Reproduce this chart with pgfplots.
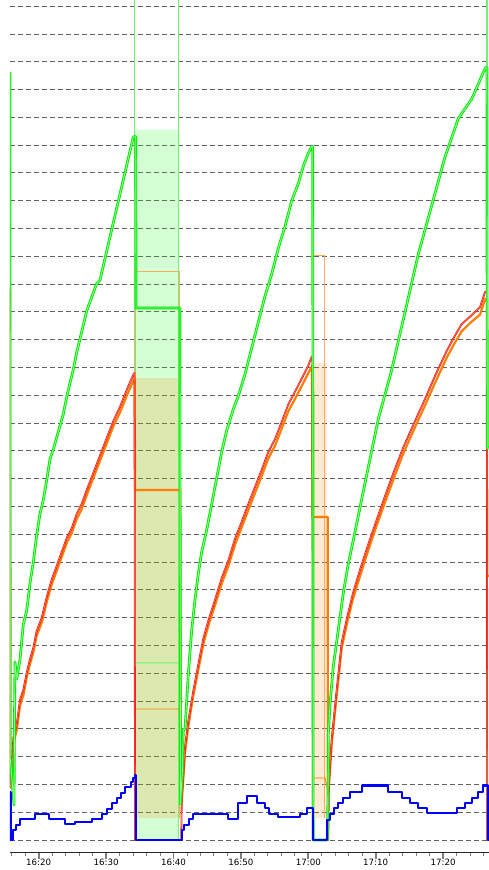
\documentclass[border=0pt]{standalone}
\usepackage{fontspec}
\setmainfont{DejaVu Sans}
\usepackage{pgfplots}
\pgfplotsset{compat=1.18}
\definecolor{grn}{RGB}{0,230,0}
\definecolor{grnin}{RGB}{140,255,140}
\definecolor{grnlt}{RGB}{110,245,110}
\definecolor{rd}{RGB}{240,20,20}
\definecolor{rdin}{RGB}{255,120,90}
\definecolor{org}{RGB}{255,125,0}
\definecolor{orglt}{RGB}{255,170,100}
\definecolor{blu}{RGB}{0,0,255}
\definecolor{fillg}{RGB}{0,255,0}
\definecolor{fillor}{RGB}{255,128,0}
\begin{document}
\begin{tikzpicture}
\path[use as bounding box] (0,0) rectangle (489bp,870bp);
\begin{axis}[
  at={(10bp,18bp)}, anchor=south west,
  scale only axis, width=479bp, height=852bp,
  xmin=15.74, xmax=86.81, ymin=-0.432, ymax=30.22,
  axis x line*=bottom, axis y line*=left,
  y axis line style={draw=none},
  x axis line style={line width=1bp, black!85},
  xtick={20,30,40,50,60,70,80},
  xticklabels={16:20,16:30,16:40,16:50,17:00,17:10,17:20},
  minor xtick={16,18,...,86},
  ytick={0,1,...,30}, yticklabels={},
  ytick style={draw=none},
  tick align=outside,
  major tick length=7bp, minor tick length=4bp,
  major tick style={line width=1.8bp},
  minor tick style={line width=0.9bp},
  ymajorgrids,
  major grid style={dash pattern=on 5bp off 3bp, black!62, line width=0.8bp},
  xticklabel style={font=\fontsize{8.7}{10}\selectfont, inner sep=0pt, anchor=north},
  clip=true,
]
% fills
\addplot[fill=fillg, fill opacity=0.17, draw=none] coordinates {(34.29,0) (34.29,25.56) (40.82,25.56) (40.82,0) (34.29,0)};
\addplot[fill=fillor, fill opacity=0.17, draw=none] coordinates {(34.29,0.79) (34.29,16.62) (40.82,16.62) (40.82,0.79) (34.29,0.79)};
\addplot[fill=fillor, fill opacity=0.17, draw=none] coordinates {(60.72,0.79) (60.72,17.16) (62.70,17.16) (62.70,0.79) (60.72,0.79)};
% light orange outlines
\addplot[orglt, line width=1bp] coordinates {(34.29,0.79) (34.29,20.44) (40.82,20.44) (40.82,0.79)};
\addplot[orglt, line width=1bp] coordinates {(60.72,0.79) (60.72,21.03) (62.40,21.03) (62.40,0.79)};
% light green spikes
\addplot[grnlt, line width=1.2bp] coordinates {(34.24,0) (34.24,32) (40.78,32) (40.78,0)};
\addplot[grnlt, line width=1.2bp] coordinates {(86.52,0) (86.52,32)};
% thin twin lines in intervals
\addplot[grnlt, line width=1bp] coordinates {(34.44,6.37) (40.82,6.37) (41.45,2.4)};
\addplot[org, line width=0.8bp] coordinates {(34.44,4.71) (40.82,4.71) (41.22,1.5)};
\addplot[org, line width=0.8bp] coordinates {(60.74,2.23) (62.48,2.23) (62.90,1.8)};
% orange
\addplot[org, line width=2.2bp, line join=round] coordinates {
(15.74,19.78) (15.78,1.95) (16.04,1.85) (16.23,3.45) (16.74,3.95) (17.23,4.85) (17.72,5.20) (18.22,5.85) (18.71,6.33) (19.20,6.75) (19.70,7.35) (20.45,7.82) (21.19,8.56) (21.93,9.20) (22.67,9.68) (23.41,10.18) (24.15,10.68) (24.90,11.04) (25.64,11.55) (26.38,11.90) (27.12,12.40) (28.10,13.02) (29.09,13.64) (30.09,14.27) (31.07,14.88) (32.06,15.38) (33.06,15.98) (34.04,16.52) (34.25,16.58) (34.29,12.59) (41.00,12.59) (41.05,1.3) (41.22,1.35) (41.71,3.15) (42.20,4.10) (42.94,5.20) (43.68,6.12) (44.42,7.05) (45.16,7.70) (46.16,8.45) (47.15,9.22) (48.13,9.85) (49.12,10.62) (50.12,11.25) (51.10,11.87) (52.09,12.48) (53.09,13.10) (54.07,13.73) (55.06,14.18) (56.05,14.80) (57.03,15.42) (58.03,15.87) (59.02,16.33) (60.00,16.80) (60.55,17.05) (60.62,11.62) (62.88,11.62) (62.92,1.9) (63.07,1.95) (63.47,3.45) (64.21,5.20) (64.96,6.92) (65.80,7.85) (66.63,8.68) (67.75,9.55) (68.86,10.40) (70.12,11.30) (71.38,12.15) (72.70,13.02) (74.05,13.88) (75.70,14.78) (77.31,15.63) (78.90,16.50) (80.53,17.35) (81.65,17.85) (82.76,18.30) (84.10,18.62) (85.48,18.90) (86.22,19.45) (86.50,19.50) (86.55,9.5) (86.85,9.5)};
% red
\addplot[rd, line width=0.6bp, double=rdin, double distance=0.6bp, line join=round] coordinates {
(15.74,19.9) (15.78,1.9) (15.99,2.05) (16.23,3.67) (16.74,4.17) (17.23,5.04) (17.72,5.40) (18.22,6.02) (18.71,6.51) (19.20,6.91) (19.70,7.52) (20.45,8.00) (21.19,8.74) (21.93,9.37) (22.67,9.86) (23.41,10.36) (24.15,10.86) (24.90,11.22) (25.64,11.73) (26.38,12.09) (27.12,12.59) (28.10,13.20) (29.09,13.83) (30.09,14.46) (31.07,15.07) (32.06,15.58) (33.06,16.19) (34.04,16.74) (34.22,16.80) (34.29,0) (41.15,0) (41.22,1.47) (41.71,3.35) (42.20,4.28) (42.94,5.37) (43.68,6.31) (44.42,7.24) (45.16,7.88) (46.16,8.64) (47.15,9.42) (48.13,10.05) (49.12,10.83) (50.12,11.45) (51.10,12.09) (52.09,12.70) (53.09,13.32) (54.07,13.96) (55.06,14.42) (56.05,15.04) (57.03,15.67) (58.03,16.13) (59.02,16.60) (60.00,17.07) (60.50,17.38) (60.62,17.40) (60.68,0) (62.95,0) (63.07,2.09) (63.47,3.63) (64.21,5.40) (64.96,7.12) (65.80,8.05) (66.63,8.88) (67.75,9.78) (68.86,10.61) (70.12,11.50) (71.38,12.37) (72.70,13.25) (74.05,14.10) (75.70,15.00) (77.31,15.86) (78.90,16.75) (80.53,17.59) (81.65,18.10) (82.76,18.56) (84.10,18.85) (85.48,19.17) (86.22,19.71) (86.50,19.75) (86.55,0) (86.85,0)};
% green
\addplot[grn, line width=0.9bp, double=grnin, double distance=0.9bp, line join=round] coordinates {
(15.74,27.63) (15.76,3.0) (16.10,2.0) (16.34,1.26) (16.40,4.17) (16.48,6.40) (16.74,5.79) (17.23,6.51) (17.72,7.77) (18.22,8.25) (18.71,9.24) (19.20,10.00) (19.70,10.97) (20.19,11.73) (20.68,12.23) (21.19,12.95) (21.68,13.71) (22.17,14.06) (22.91,14.69) (23.65,15.32) (24.15,15.94) (24.64,16.44) (25.13,16.92) (25.64,17.55) (26.38,18.28) (27.12,19.03) (27.86,19.53) (28.61,20.02) (29.09,20.14) (29.84,20.92) (30.58,21.70) (31.32,22.47) (32.06,23.24) (32.56,23.76) (33.06,24.28) (33.55,24.79) (34.04,25.30) (34.40,25.30) (34.44,19.14) (40.96,19.14) (41.02,1.3) (41.30,2.4) (41.45,3.95) (41.71,4.0) (42.20,5.99) (42.70,7.55) (43.19,8.64) (43.68,9.58) (44.18,10.36) (44.92,11.15) (45.67,12.09) (46.41,13.02) (47.15,13.96) (47.89,14.73) (48.87,15.50) (49.61,15.97) (50.61,16.76) (51.60,17.70) (52.58,18.63) (53.58,19.57) (54.57,20.36) (55.55,21.29) (56.54,22.07) (57.54,23.00) (58.52,23.62) (59.26,24.24) (60.00,24.71) (60.50,24.95) (60.66,24.95) (60.72,0) (62.82,0) (62.88,0.8) (62.95,2.4) (62.97,3.82) (63.22,4.87) (63.71,6.26) (64.21,7.13) (64.70,8.01) (65.19,8.88) (65.93,9.93) (66.68,10.79) (67.42,11.67) (68.16,12.54) (68.90,13.41) (69.65,14.28) (70.39,15.15) (71.38,16.03) (72.37,16.90) (73.35,17.95) (74.35,18.99) (75.34,20.04) (76.32,21.08) (77.31,21.95) (78.31,22.83) (79.29,23.70) (80.28,24.57) (81.28,25.27) (82.26,25.96) (83.25,26.31) (84.24,26.66) (85.22,27.19) (85.96,27.62) (86.32,27.79) (86.50,27.79) (86.55,14.1) (86.85,14.1)};
% blue
\addplot[blu, line width=2.1bp, const plot, line join=round] coordinates {
(15.74,1.74) (15.82,0) (16.14,0.36) (16.58,0.54) (17.23,0.76) (19.45,0.94) (21.58,0.76) (23.90,0.58) (25.39,0.66) (27.86,0.76) (29.35,0.94) (30.09,1.13) (30.83,1.32) (31.57,1.50) (32.17,1.70) (32.80,1.92) (33.70,2.10) (34.04,2.22) (34.25,2.34) (34.44,0) (41.22,0.36) (41.56,0.54) (42.35,0.76) (42.85,0.94) (48.13,0.76) (49.62,1.32) (50.86,1.58) (52.34,1.32) (53.58,1.14) (54.22,0.94) (55.55,0.84) (58.77,0.94) (59.76,1.14) (60.74,0) (62.73,0.72) (63.22,0.94) (63.81,1.14) (64.45,1.32) (65.19,1.52) (66.19,1.74) (67.92,1.96) (71.87,1.74) (73.86,1.52) (75.09,1.32) (76.32,1.14) (77.57,0.96) (82.02,1.14) (83.25,1.32) (84.24,1.52) (85.22,1.74) (85.96,1.96) (86.61,0) (86.85,0)};
\end{axis}
\end{tikzpicture}
\end{document}
